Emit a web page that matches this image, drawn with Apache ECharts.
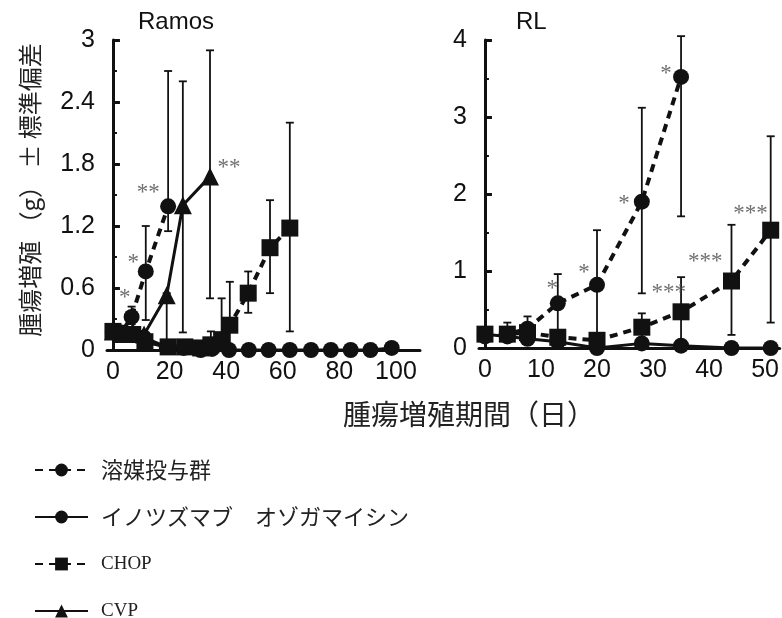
<!DOCTYPE html>
<html>
<head>
<meta charset="utf-8">
<script src="https://cdn.jsdelivr.net/npm/echarts@6/dist/echarts.min.js"></script>
<style>
  html, body { margin: 0; padding: 0; background: #fff; }
  #main { width: 782px; height: 618px; }
</style>
</head>
<body>
<div id="main"></div>
<script>
// Ramos 腫瘍増殖 (g)
const ramosVehicleDays = [0, 3, 6.6, 11.6, 19.5]
const ramosVehicle = [0.18, 0.17, 0.32, 0.76, 1.39]
const ramosInoDays = [0, 3, 7, 11, 19, 25, 31, 35, 41, 48, 55, 62.5, 70, 77, 84, 91, 98.5]
const ramosIno = [0.18, 0.15, 0.15, 0.12, 0.03, 0.02, 0, 0.01, 0, 0, 0, 0, 0, 0, 0, 0, 0.02]
const ramosChopDays = [0, 3, 7, 11.3, 19.5, 25.4, 31, 34.6, 38.4, 41.3, 47.8, 55.5, 62.5]
const ramosChop = [0.18, 0.15, 0.15, 0.08, 0.03, 0.03, 0.02, 0.05, 0.1, 0.24, 0.55, 0.99, 1.18]
const ramosCvpDays = [0, 3, 7, 11, 19, 24.7, 34.3]
const ramosCvp = [0.18, 0.16, 0.18, 0.15, 0.53, 1.4, 1.68]
// error bars: [day, low, high]
const ramosErr = [
  [6.6, 0.25, 0.42], [11.6, 0.29, 1.2], [19.5, 1.15, 2.7], [19, 0.02, 0.55],
  [24.7, 0.17, 2.6], [34.3, 0.5, 2.9],
  [34.6, 0.03, 0.18], [38.4, 0.05, 0.5], [41.3, 0.05, 0.66], [47.8, 0.36, 0.76],
  [55.5, 0.55, 1.45], [62.5, 0.18, 2.2]
]
const ramosStars = [[4.2, 0.5, '*'], [7.2, 0.84, '*'], [12.5, 1.52, '**'], [41, 1.76, '**']]

// RL 腫瘍増殖 (g)
const rlVehicleDays = [0, 4, 7.6, 13, 20, 28, 35]
const rlVehicle = [0.15, 0.18, 0.25, 0.58, 0.82, 1.9, 3.52]
const rlInoDays = [0, 4, 7.6, 13, 20, 28, 35, 44, 51]
const rlIno = [0.18, 0.15, 0.12, 0.08, 0, 0.06, 0.03, 0, 0]
const rlChopDays = [0, 4, 7.6, 13, 20, 28, 35, 44, 51]
const rlChop = [0.18, 0.18, 0.2, 0.14, 0.1, 0.27, 0.47, 0.87, 1.53]
const rlErr = [
  [4, 0.1, 0.33], [7.6, 0.1, 0.41], [13, 0.2, 0.96], [20, 0.1, 1.53],
  [28, 0.71, 3.12], [35, 1.71, 4.05],
  [28, 0.1, 0.45], [35, 0, 0.92], [44, 0.17, 1.6], [51, 0.33, 2.75]
]
const rlStars = [[12, 0.77, '*'], [17.7, 0.97, '*'], [24.8, 1.87, '*'], [32.3, 3.56, '*'],
  [32.8, 0.71, '***'], [39.3, 1.12, '***'], [47.4, 1.74, '***']]

const ramosXTicks = [0, 20, 40, 60, 80, 100]
const rlXTicks = [0, 10, 20, 30, 40, 50]

const names = ['溶媒投与群', 'イノツズマブ　オゾガマイシン', 'CHOP', 'CVP']

const ink = '#111'
const zip = (xs, ys) => xs.map((x, i) => [x, ys[i]])

function lineSeries(name, xs, ys, idx, symbol, dashed, size) {
  return {
    name: name, type: 'line', xAxisIndex: idx, yAxisIndex: idx,
    data: zip(xs, ys), symbol: symbol, symbolSize: size,
    lineStyle: { color: ink, width: dashed ? 4 : 3, type: dashed ? [8, 6] : 'solid' },
    itemStyle: { color: ink }, z: 3, animation: false
  }
}

function errSeries(data, idx) {
  return {
    type: 'custom', xAxisIndex: idx, yAxisIndex: idx, data: data, z: 2, animation: false,
    renderItem: function (params, api) {
      const top = api.coord([api.value(0), api.value(2)])
      const bot = api.coord([api.value(0), api.value(1)])
      const st = { stroke: ink, lineWidth: 1.8 }
      return {
        type: 'group', children: [
          { type: 'line', shape: { x1: top[0], y1: top[1], x2: bot[0], y2: bot[1] }, style: st },
          { type: 'line', shape: { x1: top[0] - 4, y1: top[1], x2: top[0] + 4, y2: top[1] }, style: st },
          { type: 'line', shape: { x1: bot[0] - 4, y1: bot[1], x2: bot[0] + 4, y2: bot[1] }, style: st }
        ]
      }
    }
  }
}

function starSeries(data, idx) {
  return {
    type: 'scatter', xAxisIndex: idx, yAxisIndex: idx, data: data, symbolSize: 0, z: 5,
    animation: false, silent: true,
    label: {
      show: true, position: 'inside', formatter: p => p.data[2],
      fontFamily: 'Liberation Serif', fontSize: 23, color: '#4a4a4a'
    }
  }
}

function yAxis(idx, max, interval) {
  return {
    type: 'value', gridIndex: idx, min: 0, max: max, interval: interval,
    axisLine: { show: true, lineStyle: { color: ink, width: 3 } },
    axisTick: { show: true, inside: true, length: 7, lineStyle: { color: ink, width: 3 } },
    minorTick: { show: true, splitNumber: 2, length: 4, lineStyle: { color: ink, width: 2 } },
    splitLine: { show: false },
    axisLabel: { fontFamily: 'Liberation Sans', fontSize: 25, color: ink, margin: 12 }
  }
}

function xAxis(idx, min, max, ticks) {
  return {
    type: 'value', gridIndex: idx, min: min, max: max,
    axisLine: { show: true, onZero: false, lineStyle: { color: ink, width: 3 } },
    axisTick: { show: false },
    splitLine: { show: false },
    axisLabel: { customValues: ticks, fontFamily: 'Liberation Sans', fontSize: 25, color: ink, margin: 10 }
  }
}

const chart = echarts.init(document.getElementById('main'))
chart.setOption({
  backgroundColor: '#fff',
  title: [
    { text: 'Ramos', left: 133, top: 5, textStyle: { fontFamily: 'Liberation Sans', fontSize: 24, fontWeight: 'normal', color: ink } },
    { text: 'RL', left: 511, top: 5, textStyle: { fontFamily: 'Liberation Sans', fontSize: 24, fontWeight: 'normal', color: ink } }
  ],
  grid: [
    { left: 107, top: 40, width: 313, height: 310 },
    { left: 479, top: 40, width: 303, height: 308 }
  ],
  xAxis: [xAxis(0, -2.1, 108.5, ramosXTicks), xAxis(1, -1.06, 52.6, rlXTicks)],
  yAxis: [yAxis(0, 3, 0.6), yAxis(1, 4, 1)],
  legend: {
    data: names, orient: 'vertical', left: 34, top: 459, height: 300, padding: 0,
    itemWidth: 53, itemHeight: 16, itemGap: 25,
    textStyle: {
      fontFamily: 'Noto Sans CJK JP', fontSize: 22, lineHeight: 22, color: '#222', padding: [0, 0, 0, 8],
      rich: { l: { fontFamily: 'Liberation Serif', fontSize: 19, lineHeight: 22, color: '#222' } }
    },
    formatter: n => /^[A-Z]+$/.test(n) ? '{l|' + n + '}' : n
  },
  graphic: [
    { type: 'text', x: 30, y: 190, rotation: Math.PI / 2,
      style: { text: '腫瘍増殖 （g） ± 標準偏差', fontFamily: 'Noto Sans CJK JP', fontSize: 24, fill: '#222', align: 'center', verticalAlign: 'middle' } },
    { type: 'text', x: 469, y: 414,
      style: { text: '腫瘍増殖期間（日）', fontFamily: 'Noto Sans CJK JP', fontSize: 28, fill: '#222', align: 'center', verticalAlign: 'middle' } }
  ],
  series: [
    errSeries(ramosErr, 0),
    lineSeries(names[1], ramosInoDays, ramosIno, 0, 'circle', false, 16),
    lineSeries(names[3], ramosCvpDays, ramosCvp, 0, 'triangle', false, 18),
    lineSeries(names[2], ramosChopDays, ramosChop, 0, 'rect', true, 17),
    lineSeries(names[0], ramosVehicleDays, ramosVehicle, 0, 'circle', true, 16),
    starSeries(ramosStars, 0),
    errSeries(rlErr, 1),
    lineSeries(names[1], rlInoDays, rlIno, 1, 'circle', false, 16),
    lineSeries(names[2], rlChopDays, rlChop, 1, 'rect', true, 17),
    lineSeries(names[0], rlVehicleDays, rlVehicle, 1, 'circle', true, 16),
    starSeries(rlStars, 1)
  ]
})
</script>
</body>
</html>
